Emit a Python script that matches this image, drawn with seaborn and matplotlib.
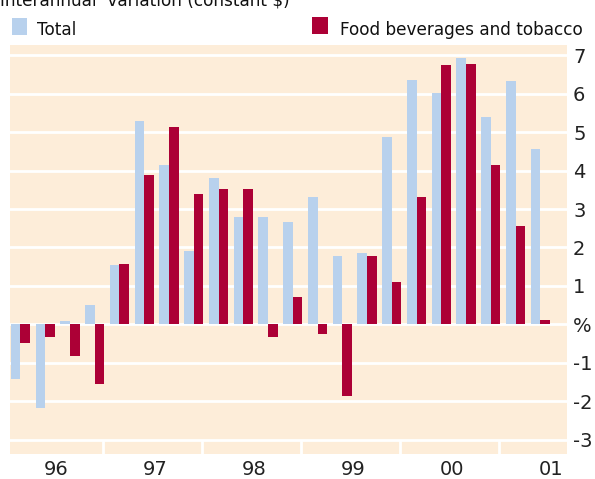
import numpy as np
import pandas as pd
import matplotlib.pyplot as plt
import seaborn as sns
from matplotlib.patches import Rectangle

# quarterly interannual variation, 1996 Q1 - 2001 Q2
quarters = [f"{y}Q{q}" for y in ["96", "97", "98", "99", "00"] for q in range(1, 5)] + ["01Q1", "01Q2"]
total = [-1.42, -2.16, 0.09, 0.51, 1.55, 5.29, 4.14, 1.91, 3.81, 2.79, 2.79,
         2.66, 3.31, 1.78, 1.86, 4.87, 6.35, 6.01, 6.92, 5.39, 6.32, 4.56]
food = [-0.47, -0.32, -0.81, -1.55, 1.57, 3.88, 5.13, 3.39, 3.52, 3.52, -0.32,
        0.71, -0.24, -1.85, 1.78, 1.10, 3.31, 6.74, 6.77, 4.14, 2.56, 0.12]
series_names = ["Total", "Food beverages and tobacco"]
year_labels = ["96", "97", "98", "99", "00", "01"]
y_ticks = list(range(-3, 8))
y_tick_labels = [("%" if t == 0 else str(t)) for t in y_ticks]

blue = "#b8d1ed"
red = "#ac0036"
peach = "#fdedd9"

df = pd.DataFrame({
    "quarter": quarters * 2,
    "value": total + food,
    "series": [series_names[0]] * len(quarters) + [series_names[1]] * len(quarters),
})

fig = plt.figure(figsize=(5.95, 4.79), dpi=100)
ax = fig.add_axes([10 / 595, 25 / 479, 556.5 / 595, 409 / 479])
ax.set_facecolor(peach)

sns.barplot(data=df, x="quarter", y="value", hue="series", order=quarters,
            hue_order=series_names, palette=[blue, red], width=0.77,
            saturation=1, legend=False, ax=ax, zorder=3)

ax.set_xlim(-0.424, 22.06)
ax.set_ylim(-3.364, 7.26)

# white horizontal rules
ax.set_axisbelow(True)
ax.set_yticks(y_ticks, y_tick_labels)
ax.grid(axis="y", color="white", lw=2)
ax.grid(axis="x", visible=False)

# year strip separators under the -3 line
bounds = [4 * k - 0.65 for k in range(1, 6)]
ax.vlines(bounds, -3.4, -3.0, color="white", lw=2, zorder=2)

ax.set_xticks([4 * k + 1.42 for k in range(len(year_labels))], year_labels)
ax.yaxis.tick_right()
ax.tick_params(axis="y", length=0, pad=4.7, labelsize=14, colors="#222222")
ax.tick_params(axis="x", length=0, pad=4.0, labelsize=14, colors="#222222")
for s in ax.spines.values():
    s.set_visible(False)
ax.set_xlabel("")
ax.set_ylabel("")

# legend and title
fig.add_artist(Rectangle((12.3 / 595, (479 - 35) / 479), 15 / 595, 16.7 / 479,
                         transform=fig.transFigure, color=blue, lw=0))
fig.add_artist(Rectangle((311.7 / 595, (479 - 34.3) / 479), 16 / 595, 17 / 479,
                         transform=fig.transFigure, color=red, lw=0))
fig.text(36.7 / 595, (479 - 35) / 479, series_names[0], fontsize=12.2, va="baseline", color="#111111")
fig.text(340 / 595, (479 - 35) / 479, series_names[1], fontsize=12.2, va="baseline", color="#111111")
fig.text(0.0, (479 - 5) / 479, "Interannual  variation (constant $)", fontsize=12.2,
         va="baseline", color="#111111")

fig.savefig("out.png", dpi=100, facecolor="white")
